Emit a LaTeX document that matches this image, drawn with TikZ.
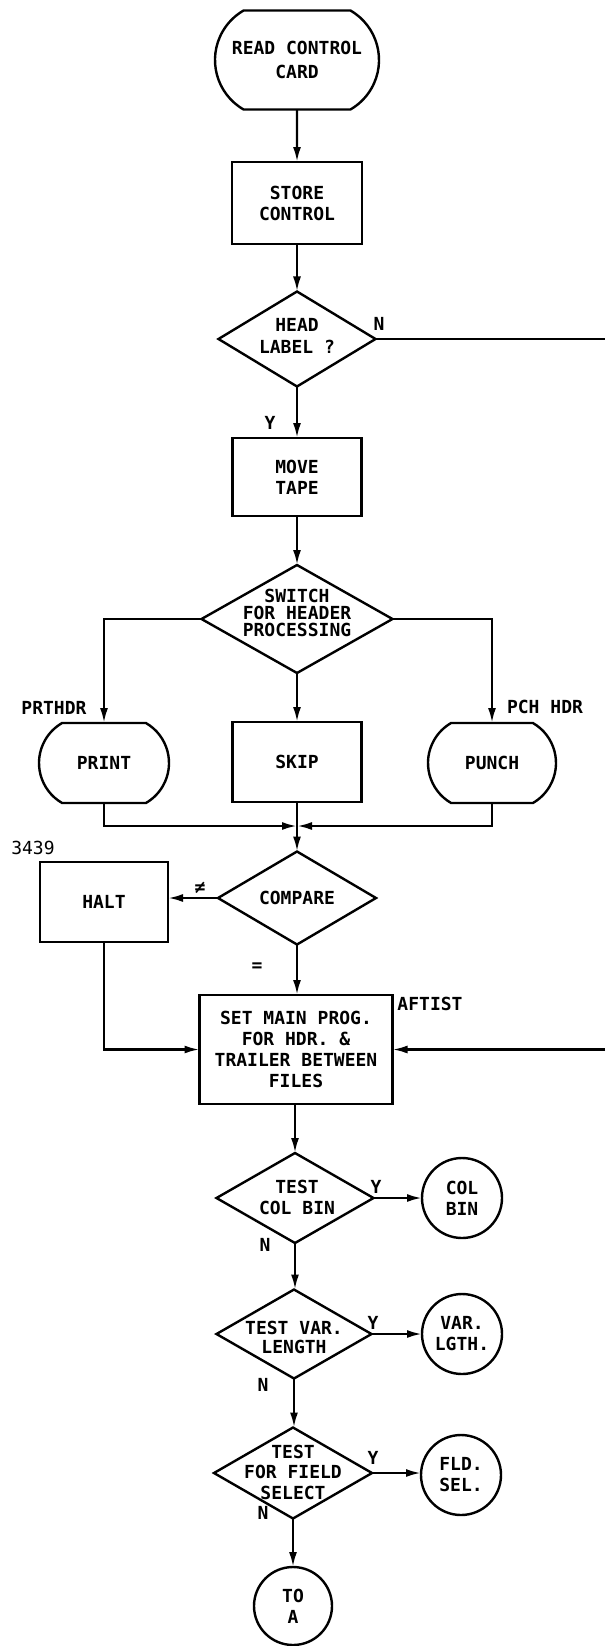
\documentclass[tikz,border=0pt]{standalone}
\usepackage{fontspec}
\setmainfont{DejaVu Sans Mono}
\usetikzlibrary{shapes.geometric,shapes.misc,arrows.meta}
\begin{document}
\begin{tikzpicture}[x=1pt,y=-1pt,
  every node/.style={font=\fontsize{18}{21}\selectfont\bfseries, inner sep=0pt, outer sep=0pt},
  ln/.style={line width=2.4pt},
  arr/.style={ln, -{Latex[length=15pt,width=8pt]}},
  box/.style={draw, ln, rectangle, align=center},
  term/.style={draw, ln, rounded rectangle, rounded rectangle arc length=120, align=center},
  dia/.style={draw, ln, diamond},
  circ/.style={draw, ln, circle, minimum size=80, align=center},
  txt/.style={align=center}
]
\useasboundingbox (0,0) rectangle (605,1646);

% top column
\node[term, minimum width=164, minimum height=99, font=\fontsize{18}{24}\selectfont\bfseries] (read) at (297,60) {READ CONTROL\\CARD};
\node[box, minimum width=130, minimum height=82] (store) at (297,203) {STORE\\CONTROL};
\node[dia, minimum width=157, minimum height=95] (head) at (297,339) {};
\node[txt, font=\fontsize{18}{22}\selectfont\bfseries] (headt) at (297,336) {HEAD\\LABEL ?};
\node (headn) at (379,324) {N};
\node (heady) at (270,423) {Y};
\coordinate (nedge) at (605,339);
\node[box, minimum width=129, minimum height=78] (move) at (297,477) {MOVE\\TAPE};
\node[dia, minimum width=191, minimum height=108] (sw) at (297,619) {};
\node[txt, font=\fontsize{18}{17}\selectfont\bfseries] (swt) at (297,613) {SWITCH\\FOR HEADER\\PROCESSING};

% three branches
\node[term, minimum width=130, minimum height=80] (print) at (104,763) {PRINT};
\node[box, minimum width=129, minimum height=80] (skip) at (297,762) {SKIP};
\node[term, minimum width=128, minimum height=80] (punch) at (492,763) {PUNCH};
\node (prthdr) at (54,708) {PRTHDR};
\node (pchhdr) at (545,707) {PCH HDR};
\coordinate (j) at (297,826);

% compare / halt
\node[font=\fontsize{18}{21}\selectfont\mdseries] (lab3439) at (33,848) {3439};
\node[box, minimum width=128, minimum height=80] (halt) at (104,902) {HALT};
\node[dia, minimum width=158, minimum height=93] (cmp) at (297,898) {};
\node (cmpt) at (297,898) {COMPARE};
\node (neq) at (200,888) {≠};
\node (eq) at (257,967) {=};

% set main prog
\node[box, minimum width=193, minimum height=109] (set) at (296,1049.5) {SET MAIN PROG.\\FOR HDR. \&\\TRAILER BETWEEN\\FILES};
\node (aftist) at (430,1004) {AFTIST};
\coordinate (aedge) at (605,1049.5);

% tests
\node[dia, minimum width=157, minimum height=90] (tcb) at (295,1198) {};
\node[txt] (tcbt) at (297,1197) {TEST\\COL BIN};
\node[circ] (colbin) at (462,1198) {COL\\BIN};
\node (y1) at (376,1187) {Y};
\node (n1) at (265,1245) {N};

\node[dia, minimum width=155, minimum height=89] (tvl) at (294,1334) {};
\node[txt, font=\fontsize{18}{19}\selectfont\bfseries] (tvlt) at (294,1337) {TEST VAR.\\LENGTH};
\node[circ] (varl) at (462,1334) {VAR.\\LGTH.};
\node (y2) at (373,1323) {Y};
\node (n2) at (263,1385) {N};

\node[dia, minimum width=158, minimum height=91] (tfs) at (293,1473) {};
\node[txt, font=\fontsize{18}{20.5}\selectfont\bfseries] (tfst) at (293,1472) {TEST\\FOR FIELD\\SELECT};
\node[circ] (fld) at (461,1475) {FLD.\\SEL.};
\node (y3) at (373,1458) {Y};
\node (n3) at (263,1513) {N};

\node[circ, minimum size=78] (toa) at (293,1606) {TO\\A};

% connectors
\draw[arr] (read) -- (store);
\draw[arr] (store) -- (head);
\draw[ln] (head.east) -- (nedge);
\draw[arr] (head) -- (move);
\draw[arr] (move) -- (sw);
\draw[arr] (sw.west) -| (print.north);
\draw[arr] (sw.south) -- (skip.north);
\draw[arr] (sw.east) -| (punch.north);
\draw[arr] (print.south) |- (j);
\draw[arr] (punch.south) |- (j);
\draw[ln] (skip.south) -- (j);
\draw[arr] (j) -- (cmp.north);
\draw[arr] (cmp.west) -- (cmp.west -| halt.east);
\draw[arr] (cmp.south) -- (cmp.south |- set.north);
\draw[arr] (halt.south) |- (set.west);
\draw[arr] (aedge) -- (set.east);
\draw[arr] (set.south -| tcb.north) -- (tcb.north);
\draw[arr] (tcb.east) -- (colbin.west);
\draw[arr] (tcb.south) -- (tcb.south |- tvl.north);
\draw[arr] (tvl.east) -- (varl.west);
\draw[arr] (tvl.south) -- (tvl.south |- tfs.north);
\draw[arr] (tfs.east) -- (tfs.east -| fld.west);
\draw[arr] (tfs.south) -- (toa.north);
\end{tikzpicture}
\end{document}
